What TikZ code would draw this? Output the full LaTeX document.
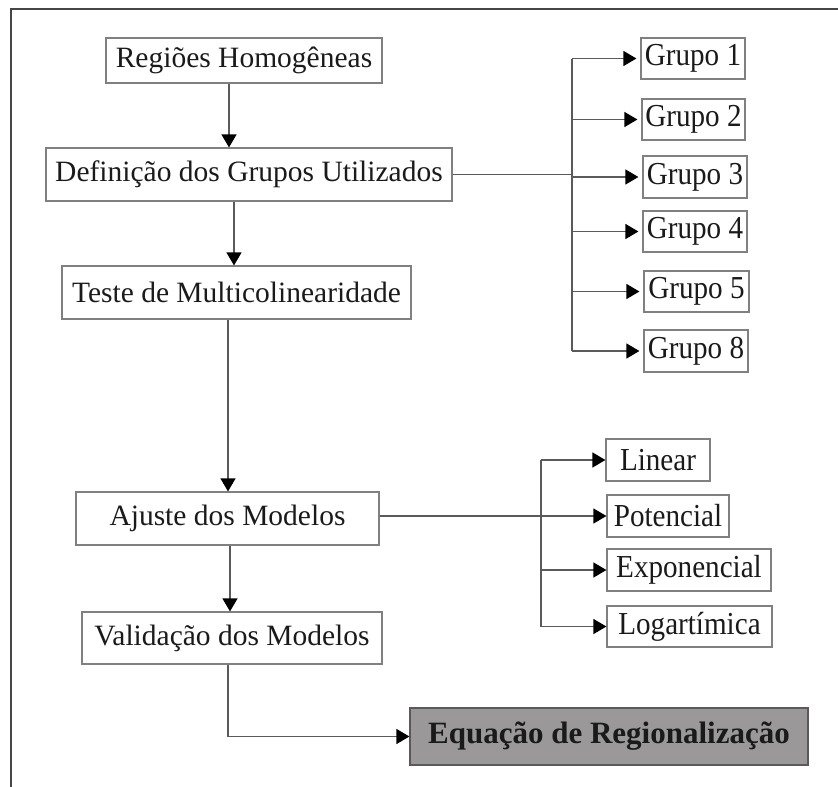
\documentclass[tikz,border=0pt]{standalone}
\usepackage{fontspec}
\setmainfont{Liberation Serif}
\usetikzlibrary{arrows.meta}
\definecolor{txt}{RGB}{26,26,26}
\definecolor{boxline}{RGB}{128,128,128}
\definecolor{conn}{RGB}{90,90,90}
\definecolor{frame}{RGB}{70,70,70}
\definecolor{eqfill}{RGB}{154,152,152}
\newcommand{\cond}[1]{\scalebox{0.91}[1]{#1}}
\begin{document}
\begin{tikzpicture}[x=1pt,y=-1pt,
  box/.style={draw=boxline,line width=1.2pt,rectangle,inner sep=0pt,text=txt,
    font=\fontsize{29.5}{34}\selectfont},
  sbox/.style={box,font=\fontsize{32}{36}\selectfont},
  eqbox/.style={box,fill=eqfill,draw=conn,font=\fontsize{31}{36}\selectfont\bfseries},
  conn/.style={draw=conn,line width=1.3pt},
  arr/.style={conn,-{Triangle[length=13pt,width=15pt,color=black]}}]
\useasboundingbox (0,0) rectangle (838,787);
\draw[frame,line width=1.5pt] (11,787) -- (11,9) -- (838,9);
% main column
\node[box,minimum width=276pt,minimum height=45pt] (reg) at (244,60.5) {Regiões Homogêneas};
\node[box,minimum width=406pt,minimum height=53pt] (def) at (249,174.5) {Definição dos Grupos Utilizados};
\node[box,minimum width=349pt,minimum height=53pt] (tes) at (236.5,292.5) {Teste de Multicolinearidade};
\node[box,minimum width=303pt,minimum height=53pt] (aju) at (227.5,518.5) {Ajuste dos Modelos};
\node[box,minimum width=300pt,minimum height=52pt] (val) at (232,638) {Validação dos Modelos};
\node[eqbox,minimum width=398pt,minimum height=57pt] (eq) at (609,736.5) {Equação de Regionalização};
% groups
\node[sbox,minimum width=104pt,minimum height=41pt] (g1) at (693,58.5) {\cond{Grupo 1}};
\node[sbox,minimum width=103pt,minimum height=41pt] (g2) at (693.5,119.5) {\cond{Grupo 2}};
\node[sbox,minimum width=104pt,minimum height=42pt] (g3) at (695,177) {\cond{Grupo 3}};
\node[sbox,minimum width=104pt,minimum height=41pt] (g4) at (695,231.5) {\cond{Grupo 4}};
\node[sbox,minimum width=105pt,minimum height=41pt] (g5) at (696.5,291.5) {\cond{Grupo 5}};
\node[sbox,minimum width=104pt,minimum height=42pt] (g8) at (696,351) {\cond{Grupo 8}};
% models
\node[sbox,minimum width=104pt,minimum height=42pt] (lin) at (658,460) {\cond{Linear}};
\node[sbox,minimum width=122pt,minimum height=42pt] (pot) at (668,516) {\cond{Potencial}};
\node[sbox,minimum width=164pt,minimum height=42pt] (exp) at (689,570) {\cond{Exponencial}};
\node[sbox,minimum width=165pt,minimum height=41pt] (log) at (689.5,626.5) {\cond{Logartímica}};
% vertical flow
\draw[arr] (reg.south -| 229,0) -- (def.north -| 229,0);
\draw[arr] (def.south -| 234,0) -- (tes.north -| 234,0);
\draw[arr] (tes.south -| 228,0) -- (aju.north -| 228,0);
\draw[arr] (aju.south -| 230,0) -- (val.north -| 230,0);
\draw[arr] (val.south -| 228,0) |- (eq.west);
% group bus
\draw[conn] (g1.west -| 572,0) -- (g8.west -| 572,0);
\draw[conn] (def.east) -- (def.east -| 572,0);
\foreach \g in {g1,g2,g3,g4,g5,g8}
  \draw[arr,shorten >=4pt] (\g.west -| 572,0) -- (\g.west);
% model bus
\draw[conn] (lin.west -| 541,0) -- (log.west -| 541,0);
\draw[conn] (aju.east |- pot.west) -- (pot.west -| 541,0);
\foreach \m in {lin,pot,exp,log}
  \draw[arr] (\m.west -| 541,0) -- (\m.west);
\end{tikzpicture}
\end{document}
